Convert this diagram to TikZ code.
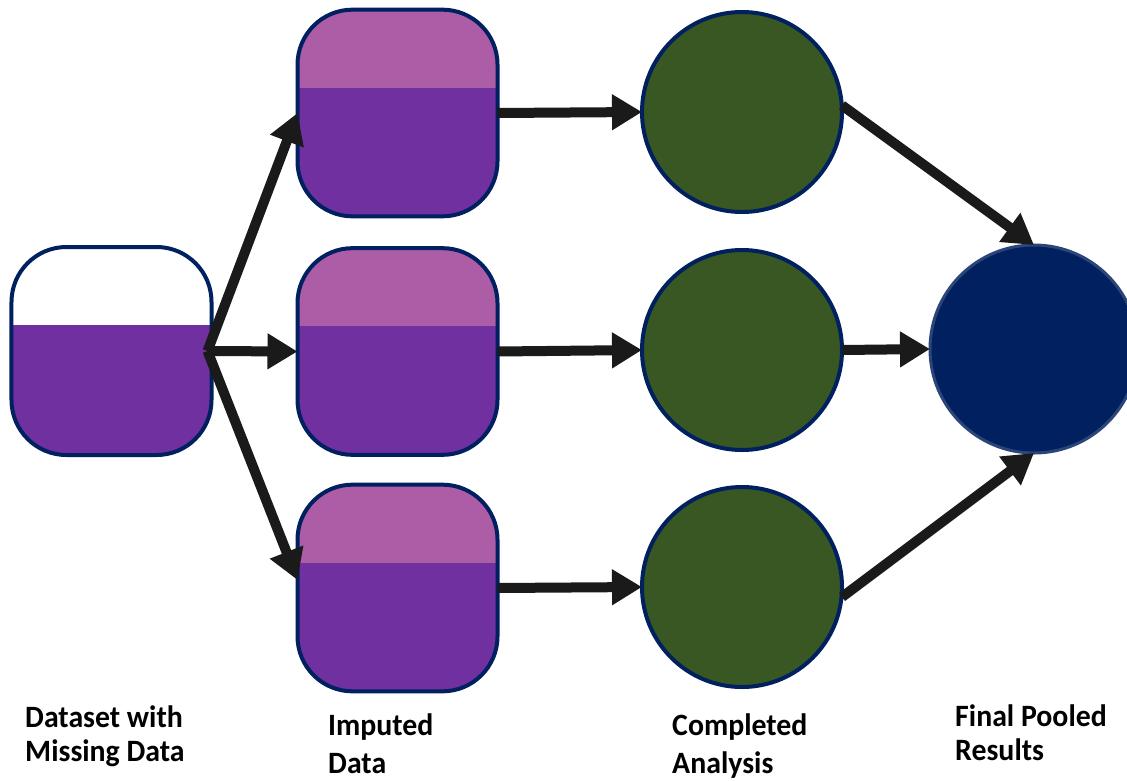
\documentclass[tikz,border=0pt]{standalone}
\usepackage{fontspec}
\newfontfamily\lblfont[FakeStretch=0.96]{Carlito}
\usetikzlibrary{arrows.meta}
\definecolor{pdark}{HTML}{7030A0}
\definecolor{plight}{HTML}{AD5CA6}
\definecolor{gfill}{HTML}{385723}
\definecolor{navyline}{HTML}{002060}
\definecolor{navyedge}{HTML}{2C4578}
\definecolor{arrcol}{HTML}{1A1A1A}
\begin{document}
\begin{tikzpicture}[x=0.03cm,y=-0.03cm,
  databox/.style={draw=navyline, line width=0.12cm, rounded corners=1.65cm,
    minimum width=6.0cm, minimum height=6.2cm, inner sep=0pt, outer sep=0pt, fill=pdark,
    path picture={\fill[#1, sharp corners] (path picture bounding box.north west) rectangle ([yshift=-2.34cm]path picture bounding box.north east);}},
  anacirc/.style={circle, draw=navyline, line width=0.12cm, fill=gfill, minimum size=6.0cm, inner sep=0pt, outer sep=0pt},
  poolcirc/.style={circle, draw=navyedge, line width=0.09cm, fill=navyline, minimum size=6.24cm, inner sep=0pt, outer sep=0pt},
  arr/.style={draw=arrcol, line width=0.3cm, -{Triangle[length=0.9cm, width=1.02cm]}, arrcol},
  lbl/.style={font=\lblfont\bfseries\fontsize{26.5pt}{28.2pt}\selectfont, align=left, inner sep=0pt, anchor=base west},
  lblw/.style={font=\lblfont\bfseries\fontsize{26.5pt}{32.4pt}\selectfont, align=left, inner sep=0pt, anchor=base west}
]
\useasboundingbox (0,0) rectangle (1127,780);

\node[databox=white, minimum height=6.24cm] (ds) at (111.5,351) {};
\node[databox=plight] (im1) at (397.5,113) {};
\node[databox=plight] (im2) at (397.5,351.5) {};
\node[databox=plight] (im3) at (397.5,588) {};

\node[anacirc] (c1) at (742,112) {};
\node[anacirc] (c2) at (742,350) {};
\node[anacirc] (c3) at (742,587) {};

\node[poolcirc] (fin) at (1034,349) {};

\draw[arr] ([xshift=-0.12cm]ds.east) -- (im1.west);
\draw[arr] ([xshift=-0.12cm]ds.east) -- (im2.west);
\draw[arr] ([xshift=-0.12cm]ds.east) -- ([yshift=0.24cm]im3.west);

\draw[arr] (im1.east) -- (c1.west);
\draw[arr] (im2.east) -- (c2.west);
\draw[arr] (im3.east) -- (c3.west);

\draw[arr] ([yshift=0.2cm]c1.east) -- (fin.north);
\draw[arr] (c2.east) -- (fin.west);
\draw[arr] ([yshift=-0.3cm]c3.east) -- (fin.south);

\node[lbl] (l1) at (25,761) {Dataset with\\Missing Data};
\node[lblw] (l2) at (328,773) {Imputed\\Data};
\node[lblw] (l3) at (672,773) {Completed\\Analysis};
\node[lbl] (l4) at (955,760) {Final Pooled\\Results};
\end{tikzpicture}
\end{document}
